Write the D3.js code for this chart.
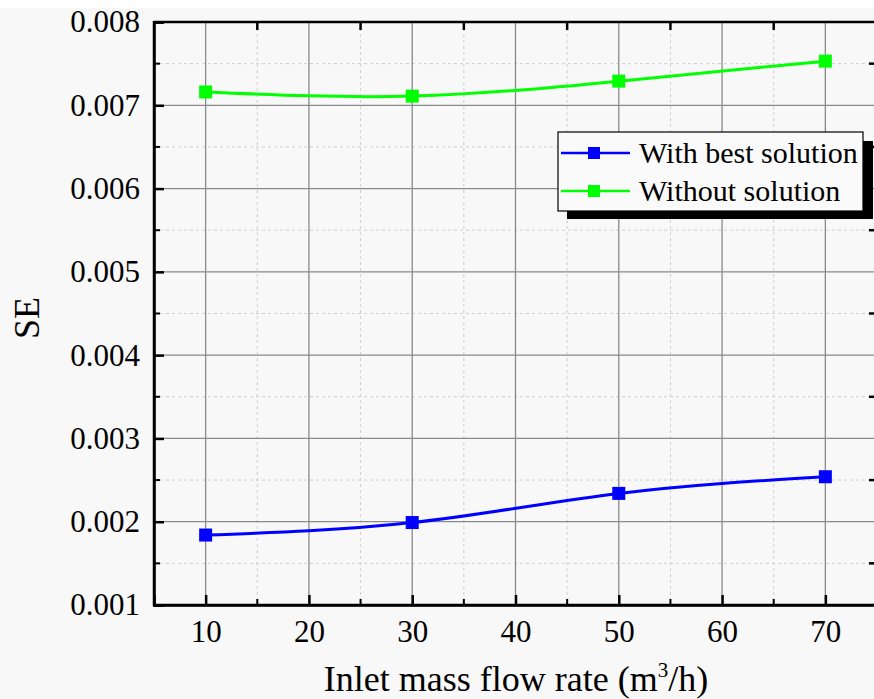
<!DOCTYPE html>
<html><head><meta charset="utf-8">
<script src="https://cdn.jsdelivr.net/npm/d3@7"></script>
<style>body{margin:0;background:#fff}svg{display:block}</style>
</head><body>
<svg id="c" width="874" height="699"></svg>
<script>
const xValues = [10, 30, 50, 70];
const withBest = [0.00184, 0.00199, 0.00234, 0.00254];
const without = [0.00716, 0.00711, 0.00729, 0.00753];
const xTicks = [10, 20, 30, 40, 50, 60, 70];
const yTicks = [0.001, 0.002, 0.003, 0.004, 0.005, 0.006, 0.007, 0.008];
const seriesNames = ["With best solution", "Without solution"];
const seriesColors = ["#0000ff", "#00ff00"];

const svg = d3.select("#c");
const W = 874, H = 699;
svg.append("rect").attr("width", W).attr("height", H).attr("fill", "#f8f8f8");
svg.append("rect").attr("width", W).attr("height", 8).attr("fill", "#ffffff");

const L = 154, T = 22, R = 877, B = 605;
const x = d3.scaleLinear().domain([5, 75]).range([L, R]);
const y = d3.scaleLinear().domain([0.001, 0.008]).range([B, T]);
const font = "'Liberation Serif','Times New Roman',serif";

const g = svg.append("g");
// minor grid
const xMinor = d3.range(15, 75, 10);
const yMinor = d3.range(0.0015, 0.008, 0.001);
g.selectAll(".vxm").data(xMinor).join("line")
  .attr("x1", d => x(d)).attr("x2", d => x(d)).attr("y1", T).attr("y2", B)
  .attr("stroke", "#cfcfcf").attr("stroke-width", 1).attr("stroke-dasharray", "3,3");
g.selectAll(".hym").data(yMinor).join("line")
  .attr("x1", L).attr("x2", R).attr("y1", d => y(d)).attr("y2", d => y(d))
  .attr("stroke", "#cfcfcf").attr("stroke-width", 1).attr("stroke-dasharray", "3,3");
// major grid
g.selectAll(".vx").data(xTicks).join("line")
  .attr("x1", d => x(d)).attr("x2", d => x(d)).attr("y1", T).attr("y2", B)
  .attr("stroke", "#8a8a8a").attr("stroke-width", 1.3);
g.selectAll(".hy").data(yTicks).join("line")
  .attr("x1", L).attr("x2", R).attr("y1", d => y(d)).attr("y2", d => y(d))
  .attr("stroke", "#8a8a8a").attr("stroke-width", 1.3);

// axes
const ax = (sel) => sel.selectAll("text").attr("font-family", font);
const bottom = svg.append("g").attr("transform", `translate(0,${B})`)
  .call(d3.axisBottom(x).tickValues(xTicks).tickSize(-10).tickPadding(15).tickFormat(d3.format("d")));
bottom.call(ax);
bottom.selectAll("text").attr("font-size", 31).attr("fill", "#000");
bottom.selectAll(".tick line").attr("stroke-width", 2.5);
bottom.append("g").selectAll("line").data(xMinor).join("line")
  .attr("x1", d => x(d)).attr("x2", d => x(d)).attr("y1", 0).attr("y2", -6)
  .attr("stroke", "#000").attr("stroke-width", 2);

const left = svg.append("g").attr("transform", `translate(${L},0)`)
  .call(d3.axisLeft(y).tickValues(yTicks).tickSize(-10).tickPadding(14).tickFormat(d3.format(".3f")));
left.call(ax);
left.selectAll("text").attr("font-size", 31).attr("fill", "#000");
left.selectAll(".tick line").attr("stroke-width", 2.5);
left.append("g").selectAll("line").data(yMinor).join("line")
  .attr("x1", 0).attr("x2", 6).attr("y1", d => y(d)).attr("y2", d => y(d))
  .attr("stroke", "#000").attr("stroke-width", 2);

// top and right ticks
svg.append("g").selectAll("line").data(xMinor).join("line")
  .attr("x1", d => x(d)).attr("x2", d => x(d)).attr("y1", T).attr("y2", T + 8)
  .attr("stroke", "#000").attr("stroke-width", 2.5);
svg.append("g").selectAll("line").data(yMinor).join("line")
  .attr("x1", R).attr("x2", R - 8).attr("y1", d => y(d)).attr("y2", d => y(d))
  .attr("stroke", "#000").attr("stroke-width", 2.5);

svg.selectAll(".domain").attr("stroke", "#000").attr("stroke-width", 2.5);
svg.append("line").attr("x1", L).attr("x2", R).attr("y1", T).attr("y2", T).attr("stroke", "#000").attr("stroke-width", 2.5);
svg.append("line").attr("x1", L).attr("x2", L).attr("y1", T - 1).attr("y2", B + 1).attr("stroke", "#000").attr("stroke-width", 2.5);
svg.append("line").attr("x1", L - 1).attr("x2", R).attr("y1", B).attr("y2", B).attr("stroke", "#000").attr("stroke-width", 2.5);

// series
const series = [withBest, without];
const line = d3.line().x(d => x(d[0])).y(d => y(d[1])).curve(d3.curveNatural);
series.forEach((vals, i) => {
  const pts = xValues.map((xv, j) => [xv, vals[j]]);
  svg.append("path").attr("d", line(pts)).attr("fill", "none")
    .attr("stroke", seriesColors[i]).attr("stroke-width", 3);
  svg.append("g").selectAll("rect").data(pts).join("rect")
    .attr("x", d => x(d[0]) - 6.5).attr("y", d => y(d[1]) - 6.5)
    .attr("width", 13).attr("height", 13).attr("fill", seriesColors[i]);
});

// legend
const lg = svg.append("g");
lg.append("rect").attr("x", 567).attr("y", 141).attr("width", 306).attr("height", 78).attr("fill", "#000");
lg.append("rect").attr("x", 558).attr("y", 132).attr("width", 305).attr("height", 79)
  .attr("fill", "#fafafa").attr("stroke", "#000").attr("stroke-width", 1.2);
seriesNames.forEach((n, i) => {
  const yy = 153 + i * 38;
  lg.append("line").attr("x1", 561).attr("x2", 630).attr("y1", yy).attr("y2", yy)
    .attr("stroke", seriesColors[i]).attr("stroke-width", 2.5);
  lg.append("rect").attr("x", 588).attr("y", yy - 6).attr("width", 12).attr("height", 12).attr("fill", seriesColors[i]);
  lg.append("text").attr("x", 639).attr("y", yy + 10).attr("font-family", font).attr("font-size", 30).text(n);
});

// titles
svg.append("text").attr("transform", "translate(39,318) rotate(-90)").attr("text-anchor", "middle")
  .attr("font-family", font).attr("font-size", 36).text("SE");
const xt = svg.append("text").attr("x", 516).attr("y", 691).attr("text-anchor", "middle")
  .attr("font-family", font).attr("font-size", 36);
xt.append("tspan").text("Inlet mass flow rate (m");
xt.append("tspan").attr("font-size", 21).attr("dy", -14).text("3");
xt.append("tspan").attr("dy", 14).text("/h)");
</script>
</body></html>
